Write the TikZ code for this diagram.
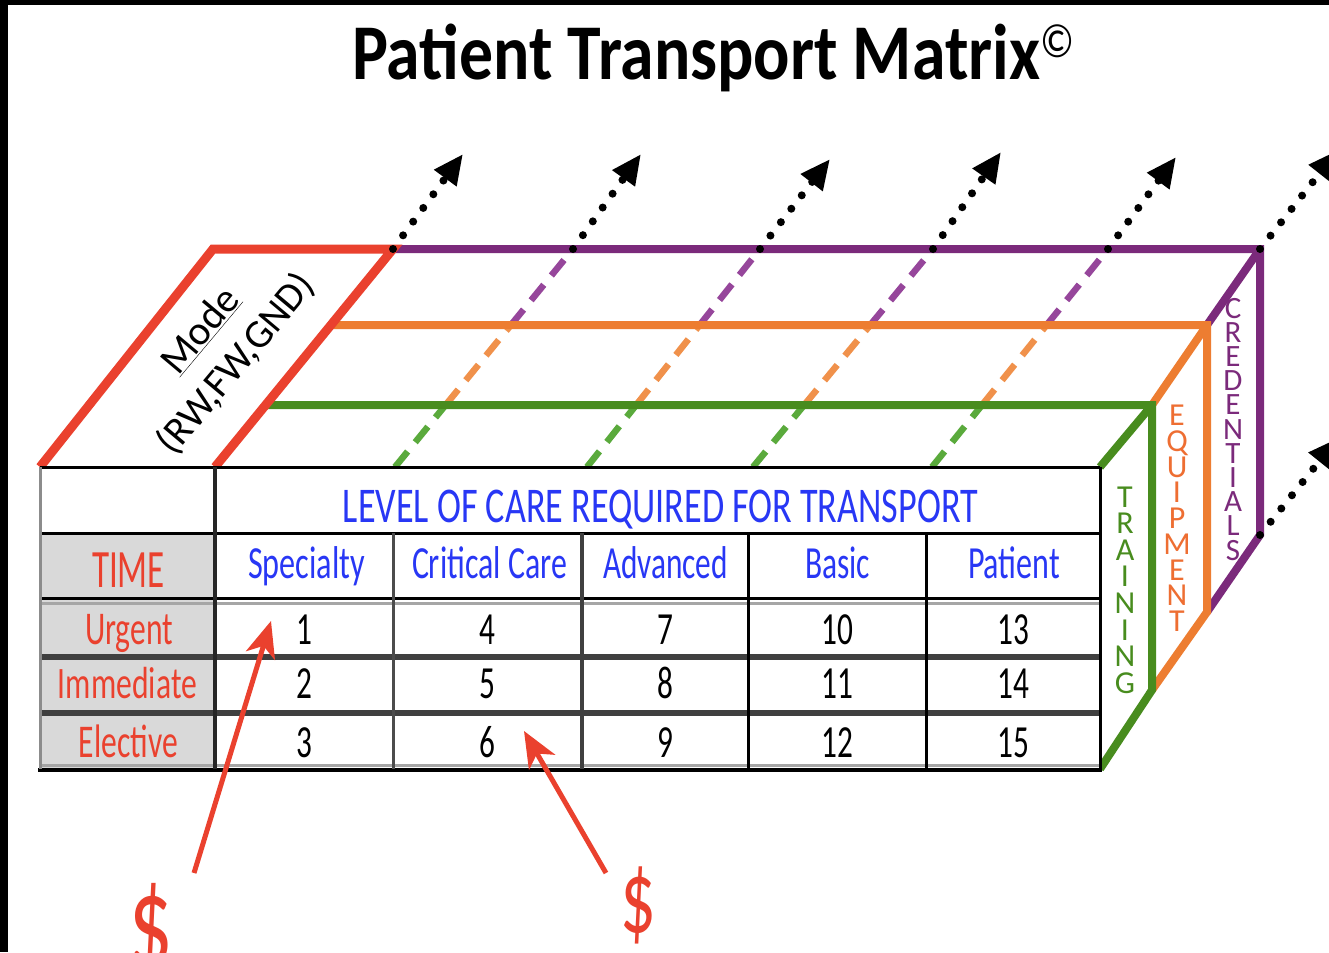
\documentclass[tikz,border=0pt]{standalone}
\usepackage{graphicx}
\usepackage{fontspec}
\setmainfont{Carlito}
\usetikzlibrary{arrows.meta,calc}

\definecolor{cRed}{RGB}{234,65,46}
\definecolor{cPurple}{RGB}{123,42,123}
\definecolor{cOrange}{RGB}{237,125,49}
\definecolor{cGreen}{RGB}{72,140,30}
\definecolor{cPurpleD}{RGB}{150,70,155}
\definecolor{cOrangeD}{RGB}{240,145,75}
\definecolor{cGreenD}{RGB}{90,170,60}
\definecolor{cBlue}{RGB}{40,55,245}
\definecolor{cGray}{RGB}{217,217,217}
\definecolor{cEquip}{RGB}{238,110,50}

\newcommand{\fitw}[2]{\resizebox{#1}{\height}{#2}}
\newcommand{\fs}[1]{\fontsize{#1}{#1}\selectfont}

\begin{document}
\begin{tikzpicture}[x=1pt,y=-1pt,
  tline/.style={draw=black,line width=3pt},
  throw/.style={draw=black!75,line width=6pt},
  frameR/.style={draw=cRed,line width=9pt,line join=miter},
  frameP/.style={draw=cPurple,line width=8pt,line join=miter},
  frameO/.style={draw=cOrange,line width=8pt,line join=miter},
  frameG/.style={draw=cGreen,line width=8pt,line join=miter},
  dashP/.style={draw=cPurpleD,line width=6.5pt,dash pattern=on 20pt off 12pt},
  dashO/.style={draw=cOrangeD,line width=6.5pt,dash pattern=on 20pt off 12pt},
  dashG/.style={draw=cGreenD,line width=6.5pt,dash pattern=on 20pt off 12pt},
  dotarrow/.style={draw=black,line width=8pt,line cap=round,dash pattern=on 0pt off 17pt,
     -{Triangle[length=30pt,width=26pt]}},
  redarrow/.style={draw=cRed,line width=5pt,-{Stealth[length=36pt,width=30pt,inset=10pt]}},
  lbl/.style={inner sep=0pt,anchor=base},
  vlet/.style={inner sep=0pt,anchor=base,font=\fs{32}},
]
\useasboundingbox (0,0) rectangle (1329,952);
\clip (0,0) rectangle (1329,952);
\fill[white] (0,0) rectangle (1329,952);
\fill[black] (0,0) rectangle (8,952);
\fill[black] (0,0) rectangle (1329,5);

% ---- title
\node[inner sep=0pt,anchor=base west] (title) at (352,80)
  {\fs{79}\bfseries\fitw{688pt}{Patient Transport Matrix}\raisebox{22pt}{\normalfont\fs{48}\scalebox{0.85}[1]{©}}};

% ---- dashed depth lines
\foreach \bx/\tx [count=\k] in {395/573, 587/760, 753/933, 932/1108} {
  \coordinate (db\k) at (\bx,467);
  \coordinate (dt\k) at (\tx,249);
  \coordinate (dg\k) at ($(db\k)!0.284!(dt\k)$);
  \coordinate (do\k) at ($(db\k)!0.651!(dt\k)$);
  \draw[dashG] (db\k) -- (dg\k);
  \draw[dashO] (dg\k) -- (do\k);
  \draw[dashP] (do\k) -- (dt\k);
}

% ---- box frame corners
\coordinate (tl) at (40,467);
\coordinate (tm) at (215,467);
\coordinate (tr) at (1100,467);
\coordinate (br) at (1100,769);
\coordinate (rl) at (213,249);
\coordinate (rr) at (393,249);
\coordinate (gl) at (265,405);
\coordinate (gt) at (1152,405);
\coordinate (gb) at (1152,690);
\coordinate (ol) at (331,325);
\coordinate (ot) at (1207,325);
\coordinate (ob) at (1207,612);
\coordinate (pt) at (1260,249);
\coordinate (pb) at (1260,535);

\draw[frameP] (rr) -- (pt) -- (pb) -- (ob);
\draw[frameP] (pt) -- (ot);
\draw[frameO] (ol) -- (ot) -- (ob) -- (gb);
\draw[frameO] (ot) -- (gt);
\draw[frameG] (gl) -- (gt) -- (gb) -- (br);
\draw[frameG] (gt) -- (tr);
\draw[frameR] (tl) -- (rl) -- (rr) -- (tm);

% ---- dotted arrows
\coordinate (a0) at (463,154);
\coordinate (a1) at (641,154);
\coordinate (a2) at (830,159);
\coordinate (a3) at (1001,152);
\coordinate (a4) at (1176,157);
\coordinate (a5) at (1338,150);
\coordinate (a6) at (1338,438);
\draw[dotarrow] (rr) -- (a0);
\draw[dotarrow] (dt1) -- (a1);
\draw[dotarrow] (dt2) -- (a2);
\draw[dotarrow] (dt3) -- (a3);
\draw[dotarrow] (dt4) -- (a4);
\draw[dotarrow] (pt) -- (a5);
\draw[dotarrow] (pb) -- (a6);

% ---- mode labels
\node[inner sep=0pt,rotate=50] (mode) at (200,330) {\fs{41}\underline{Mode}};
\node[inner sep=0pt,rotate=50] (rw) at (236,364) {\fs{40}(RW,FW,GND)};

% ---- table
\fill[white] (40,467) rectangle (1100,769);
\fill[cGray] (40,533) rectangle (215,769);
\draw[draw=black!35,line width=3pt] (40,603) -- (1100,603);
\draw[draw=black!35,line width=3pt] (40,765) -- (1100,765);
\draw[tline] (40,467) -- (1100,467);
\draw[tline] (40,533) -- (1100,533);
\draw[tline] (40,598) -- (1100,598);
\draw[throw] (40,657) -- (1100,657);
\draw[throw] (40,713) -- (1100,713);
\draw[tline,line width=4pt] (38,770) -- (1102,770);
\draw[tline,draw=black!45] (40,467) -- (40,769);
\draw[tline,draw=black!85,line width=4pt] (215,467) -- (215,769);
\draw[tline,draw=black!70] (393,533) -- (393,769);
\draw[tline,draw=black!75,line width=4pt] (582,533) -- (582,769);
\draw[tline] (748,533) -- (748,769);
\draw[tline] (926,533) -- (926,769);
\draw[tline] (1100,467) -- (1100,769);

% header
\node[lbl,text=cBlue] (level) at (660.5,522) {\fs{50}\fitw{635pt}{LEVEL OF CARE REQUIRED FOR TRANSPORT}};
\node[lbl,text=cBlue] (h1) at (306.5,578) {\fs{46}\fitw{117pt}{Specialty}};
\node[lbl,text=cBlue] (h2) at (489.5,578) {\fs{46}\fitw{155pt}{Critical Care}};
\node[lbl,text=cBlue] (h3) at (665.5,578) {\fs{46}\fitw{125pt}{Advanced}};
\node[lbl,text=cBlue] (h4) at (837.5,578) {\fs{46}\fitw{65pt}{Basic}};
\node[lbl,text=cBlue] (h5) at (1014,578) {\fs{46}\fitw{92pt}{Patient}};

% row labels
\node[lbl,text=cRed] (time) at (128.5,587) {\fs{54}\fitw{73pt}{TIME}};
\node[lbl,text=cRed] (urg) at (129,644) {\fs{47}\fitw{88pt}{Urgent}};
\node[lbl,text=cRed] (imm) at (127.5,698) {\fs{45}\fitw{139pt}{Immediate}};
\node[lbl,text=cRed] (ele) at (128.5,757) {\fs{47}\fitw{99pt}{Elective}};

% numbers
\foreach \cx [count=\c from 0] in {304,487.5,665,837,1013} {
  \foreach \by [count=\r] in {644,698,757} {
    \pgfmathtruncatemacro{\num}{3*\c+\r}
    \node[lbl] (n\num) at (\cx,\by) {\fs{46}\scalebox{0.68}[1]{\num}};
  }
}

% ---- side labels
\foreach \l [count=\i from 0] in {T,R,A,I,N,I,N,G}
  \node[vlet,text=cGreen] (tr\i) at (1125,{507+\i*26.6}) {\l};
\foreach \l [count=\i from 0] in {E,Q,U,I,P,M,E,N,T}
  \node[vlet,text=cEquip] (eq\i) at (1177,{425.5+\i*25.75}) {\l};
\foreach \l [count=\i from 0] in {C,R,E,D,E,N,T,I,A,L,S}
  \node[vlet,text=cPurple,font=\fs{31}] (cr\i) at (1233,{318+\i*24.2}) {\l};

% ---- dollar arrows
\node[lbl,text=cRed] (d1) at (151,965) {\fs{130}\scalebox{0.68}[1]{\$}};
\node[lbl,text=cRed] (d2) at (638,932) {\fs{104}\scalebox{0.68}[1]{\$}};
\coordinate (tail1) at (194,873);
\coordinate (tip1) at (271,621);
\coordinate (tail2) at (606,873);
\coordinate (tip2) at (524,731);
\draw[redarrow] (tail1) -- (tip1);
\draw[redarrow] (tail2) -- (tip2);
\end{tikzpicture}
\end{document}
